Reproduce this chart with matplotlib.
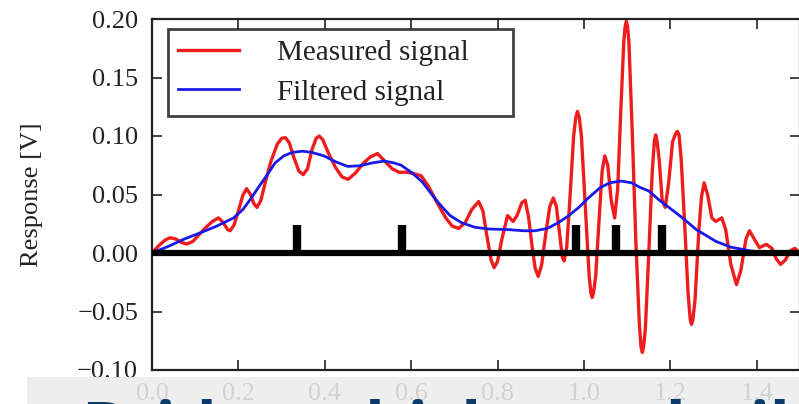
import numpy as np
import matplotlib
matplotlib.use('Agg')
import matplotlib.pyplot as plt
from matplotlib.patches import Rectangle

##### DATA #####
# measured signal (red)
measured_x = [0.000, 0.015, 0.030, 0.042, 0.055, 0.068, 0.081, 0.095, 0.112, 0.125,
              0.140, 0.154, 0.165, 0.175, 0.181, 0.190, 0.200, 0.210, 0.219, 0.228,
              0.236, 0.243, 0.252, 0.262, 0.275, 0.290, 0.300, 0.309, 0.318, 0.328,
              0.340, 0.350, 0.360, 0.370, 0.380, 0.387, 0.395, 0.410, 0.425, 0.440,
              0.454, 0.470, 0.490, 0.505, 0.522, 0.540, 0.556, 0.572, 0.590, 0.605,
              0.623, 0.640, 0.660, 0.680, 0.695, 0.710, 0.725, 0.740, 0.756, 0.766,
              0.775, 0.785, 0.792, 0.800, 0.810, 0.823, 0.836, 0.845, 0.856, 0.864,
              0.872, 0.880, 0.887, 0.894, 0.902, 0.912, 0.921, 0.929, 0.936, 0.944,
              0.950, 0.954, 0.960, 0.968, 0.976, 0.981, 0.985, 0.989, 0.994, 1.003,
              1.012, 1.016, 1.019, 1.022, 1.027, 1.036, 1.042, 1.048, 1.055, 1.063,
              1.071, 1.078, 1.085, 1.092, 1.095, 1.098, 1.101, 1.104, 1.112, 1.120,
              1.128, 1.132, 1.135, 1.138, 1.142, 1.150, 1.158, 1.163, 1.166, 1.169,
              1.174, 1.181, 1.188, 1.196, 1.205, 1.212, 1.216, 1.220, 1.225, 1.233,
              1.241, 1.246, 1.249, 1.252, 1.257, 1.266, 1.272, 1.278, 1.286, 1.296,
              1.305, 1.319, 1.328, 1.340, 1.353, 1.363, 1.375, 1.383, 1.394, 1.406,
              1.422, 1.435, 1.445, 1.455, 1.466, 1.478, 1.488, 1.500]
measured_y = [0.000, 0.006, 0.011, 0.013, 0.012, 0.009, 0.0077, 0.010, 0.017, 0.022,
              0.027, 0.030, 0.026, 0.020, 0.019, 0.024, 0.036, 0.049, 0.055, 0.050,
              0.042, 0.039, 0.045, 0.060, 0.078, 0.093, 0.098, 0.0986, 0.094, 0.082,
              0.070, 0.067, 0.072, 0.088, 0.098, 0.100, 0.097, 0.084, 0.073, 0.065,
              0.063, 0.068, 0.077, 0.082, 0.085, 0.078, 0.072, 0.069, 0.069, 0.068,
              0.066, 0.057, 0.043, 0.030, 0.023, 0.021, 0.026, 0.037, 0.044, 0.036,
              0.015, -0.006, -0.0125, -0.007, 0.012, 0.032, 0.027, 0.032, 0.043, 0.045,
              0.030, 0.005, -0.013, -0.020, -0.010, 0.018, 0.040, 0.047, 0.040, 0.015,
              -0.004, -0.0068, 0.005, 0.050, 0.100, 0.116, 0.121, 0.116, 0.100, 0.040,
              -0.020, -0.034, -0.038, -0.034, -0.020, 0.035, 0.070, 0.083, 0.075, 0.045,
              0.030, 0.055, 0.120, 0.180, 0.193, 0.198, 0.193, 0.180, 0.100, 0.010,
              -0.060, -0.080, -0.085, -0.080, -0.065, 0.000, 0.070, 0.096, 0.101, 0.096,
              0.080, 0.045, 0.039, 0.060, 0.095, 0.102, 0.104, 0.101, 0.080, 0.025,
              -0.035, -0.057, -0.061, -0.057, -0.040, 0.020, 0.048, 0.060, 0.050, 0.030,
              0.027, 0.030, 0.020, -0.010, -0.027, -0.015, 0.012, 0.019, 0.012, 0.0046,
              0.0074, 0.004, -0.005, -0.0097, -0.006, 0.002, 0.004, 0.000]

# filtered signal (blue)
filtered_x = [0.000, 0.040, 0.073, 0.110, 0.150, 0.189, 0.210, 0.228, 0.248, 0.267,
              0.285, 0.305, 0.325, 0.348, 0.370, 0.398, 0.425, 0.453, 0.480, 0.510,
              0.538, 0.560, 0.577, 0.600, 0.625, 0.654, 0.670, 0.690, 0.716, 0.747,
              0.780, 0.825, 0.860, 0.887, 0.915, 0.941, 0.965, 0.988, 1.010, 1.038,
              1.060, 1.085, 1.110, 1.130, 1.150, 1.175, 1.200, 1.228, 1.260, 1.305,
              1.340, 1.383, 1.420, 1.500]
filtered_y = [0.000, 0.006, 0.0117, 0.017, 0.023, 0.030, 0.037, 0.046, 0.057, 0.067,
              0.077, 0.083, 0.086, 0.087, 0.086, 0.083, 0.078, 0.074, 0.0745, 0.077,
              0.0786, 0.077, 0.075, 0.069, 0.061, 0.047, 0.040, 0.032, 0.026, 0.022,
              0.0205, 0.020, 0.019, 0.019, 0.021, 0.026, 0.032, 0.039, 0.047, 0.056,
              0.060, 0.0615, 0.060, 0.056, 0.053, 0.045, 0.038, 0.030, 0.020, 0.010,
              0.005, 0.002, 0.000, 0.000]

# excitation pulses (black)
pulse_x = [0.335, 0.579, 0.981, 1.074, 1.181]
pulse_h = 0.024

x_ticks = [0.0, 0.2, 0.4, 0.6, 0.8, 1.0, 1.2, 1.4]
y_ticks = [-0.10, -0.05, 0.00, 0.05, 0.10, 0.15, 0.20]

##### PLOT #####
plt.rcParams['font.family'] = ['Liberation Serif', 'DejaVu Serif']

fig = plt.figure(figsize=(7.99, 4.04), dpi=100)
ax = fig.add_axes([152/799, 1 - 370/404, 648/799, 351/404])

ax.plot(measured_x, measured_y, color='#ee1c1c', lw=2.4, label='Measured signal')
ax.plot(filtered_x, filtered_y, color='#1a1ae6', lw=2.0, label='Filtered signal')
ax.axhline(0, color='black', lw=4.5, zorder=4)
ax.vlines(pulse_x, 0, pulse_h, color='black', lw=6, zorder=4)

ax.set_xlim(0, 1.5)
ax.set_ylim(-0.1, 0.2)
ax.set_xticks(x_ticks)
ax.set_yticks(y_ticks)
ax.set_xticklabels(['%.1f' % v for v in x_ticks])
ax.set_yticklabels([('%.2f' % v).replace('-', '\u2212') for v in y_ticks])
ax.tick_params(direction='in', top=True, right=True, length=7, width=1.2,
               labelsize=19, colors='#222222')
ax.tick_params(axis='x', pad=9)
ax.tick_params(axis='y', pad=10)
for s in ax.spines.values():
    s.set_linewidth(1.6)
    s.set_color('#222222')

ax.set_ylabel('Response [V]', fontsize=19, color='#222222')
ax.yaxis.set_label_coords(-0.168, 0.5)

leg = ax.legend(loc='upper left', bbox_to_anchor=(16/648, 1 - 14/351, 345/648, 0.01),
                mode='expand', fontsize=21, frameon=True, fancybox=False,
                borderpad=0.35, handlelength=2.1, handletextpad=1.3, labelspacing=0.45,
                borderaxespad=0)
leg.get_frame().set_edgecolor('#111111')
leg.get_frame().set_linewidth(2.0)
for t in leg.get_texts():
    t.set_color('#222222')

# grey caption band laid over the bottom of the screenshot
fig.patches.append(Rectangle((27/799, 0), 1, 27/404, transform=fig.transFigure,
                             facecolor='#ececec', alpha=0.88, edgecolor='none', zorder=10))
fig.text(82/799, -44/404, 'Bridge which was built', fontsize=47, fontweight='bold',
         family='Open Sans', color='#0b3a6b', va='baseline', zorder=11)

fig.savefig('out.png', dpi=100)
